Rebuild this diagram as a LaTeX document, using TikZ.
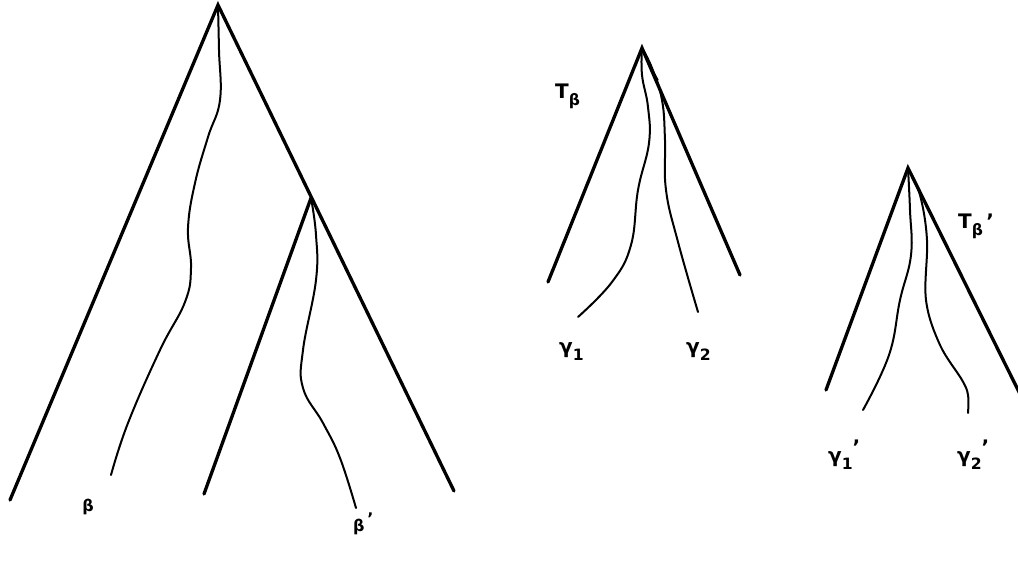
\documentclass[tikz,border=0pt]{standalone}
\usepackage{fontspec}
\newfontfamily\lblfont{DejaVu Sans}
\newcommand{\lowsub}[1]{\raisebox{-0.35em}{\fontsize{0.78em}{1em}\selectfont #1}}
\begin{document}
\begin{tikzpicture}[x=1pt,y=-1pt,
  leg/.style={line width=3.3pt,line cap=round},
  walk/.style={line width=2pt,line cap=round,line join=round},
  lbl/.style={inner sep=0pt,font=\lblfont\bfseries\fontsize{20}{24}\selectfont},
  slbl/.style={inner sep=0pt,font=\lblfont\bfseries\fontsize{16}{19}\selectfont}]
\useasboundingbox (0,0) rectangle (1018,561);
% big tree
\coordinate (A) at (218,5);
\coordinate (AL) at (10,500);
\coordinate (AR) at (454,491);
\coordinate (B) at (311,198);
\coordinate (BL) at (204,494);
\draw[leg] (AL) -- (A) -- (AR);
\draw[leg] (BL) -- (B);
\draw[walk] plot[smooth,tension=0.7] coordinates {(A) (219,50) (220,100) (208,137) (195,183) (188,228) (191,268) (185,302) (160,350) (128,423) (111,475)};
\draw[walk] plot[smooth,tension=0.7] coordinates {(B) (316,235) (316,280) (303,350) (303,388) (323,423) (340,458) (356,508)};
\node[slbl] (lb) at (88,507) {β};
\node[slbl,anchor=west] (lbp) at (353,524) {β\,\raisebox{0.45em}{\textquoteright}};
% middle tree
\coordinate (C) at (642,48);
\coordinate (CL) at (548,282);
\coordinate (CR) at (740,275);
\draw[leg] (CL) -- (C) -- (CR);
\draw[walk] plot[smooth,tension=0.7] coordinates {(C) (642,75) (648,107) (649,143) (638,190) (631,245) (612,282) (578,317)};
\draw[walk] plot[smooth,tension=0.7] coordinates {(C) (652,68) (662,100) (665,140) (666,190) (678,242) (698,312)};
\draw[walk,line width=1.3pt] (645,56) -- (658,80);
\node[lbl,anchor=west] (tb) at (555,96) {T\lowsub{β}};
\node[lbl,anchor=west] (g1) at (559,352) {γ\lowsub{1}};
\node[lbl,anchor=west] (g2) at (686,352) {γ\lowsub{2}};
% right tree
\coordinate (D) at (908,168);
\coordinate (DL) at (826,390);
\coordinate (DR) at (1020,394);
\draw[leg] (DL) -- (D) -- (DR);
\draw[walk] plot[smooth,tension=0.7] coordinates {(D) (910,210) (911,255) (900,300) (889,355) (863,410)};
\draw[walk] plot[smooth,tension=0.6] coordinates {(D) (920,195) (927,240) (926,300) (940,345) (962,380) (968,395) (968,413)};
\node[lbl,anchor=west] (tbp) at (958,226) {T\lowsub{β}\,\textquoteright};
\node[lbl,anchor=west] (g1p) at (828,455) {γ\lowsub{1}\raisebox{0.4em}{\textquoteright}};
\node[lbl,anchor=west] (g2p) at (957,455) {γ\lowsub{2}\raisebox{0.4em}{\textquoteright}};
\end{tikzpicture}
\end{document}
